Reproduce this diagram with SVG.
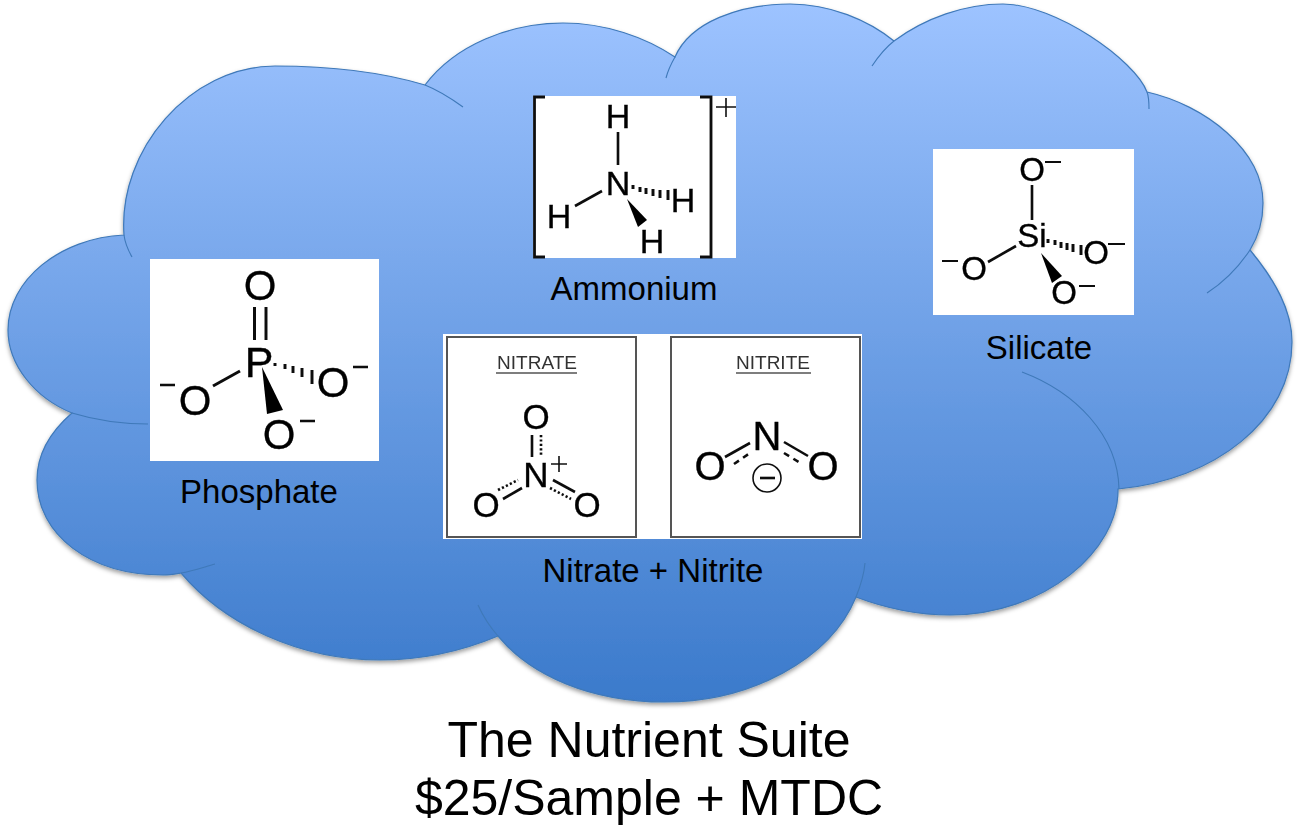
<svg xmlns="http://www.w3.org/2000/svg" width="1299" height="835" viewBox="0 0 1299 835">
<style>
text{font-family:"Liberation Sans",Arial,sans-serif;fill:#000}
.l{font-size:33px;text-anchor:middle}
.t{font-size:50px;text-anchor:middle}
.a{text-anchor:middle;stroke:#000;stroke-width:.35}
.b{stroke:#111;stroke-width:2.6;fill:none;stroke-linecap:butt}
.d{stroke:#111;stroke-width:2.6;fill:none;stroke-dasharray:2.2 2.2}
.h{stroke:#111;stroke-width:3;fill:none}
.w{fill:#fff}
.i{fill:none;stroke:#3f79b9;stroke-width:1.1}
.m{filter:url(#soft)}
</style>
<defs>
<linearGradient id="sky" gradientUnits="userSpaceOnUse" x1="0" y1="4" x2="0" y2="702">
<stop offset="0" stop-color="#9dc3ff"/><stop offset="1" stop-color="#3b7acb"/>
</linearGradient>
<filter id="shadow" x="-5%" y="-5%" width="110%" height="110%"><feDropShadow dx="0" dy="2.5" stdDeviation="2" flood-color="#000" flood-opacity=".38"/></filter>
<filter id="soft" x="-5%" y="-5%" width="110%" height="110%"><feGaussianBlur stdDeviation=".45"/></filter>
</defs>

<g id="cloud">
<path filter="url(#shadow)" fill="url(#sky)" stroke="#3f79b9" stroke-width="1.2" d="M124,235 C118,150 190,66 275,66 C320,66 375,70 425,85 C455,45 510,23 563,23 C605,23 645,37 675,57 C690,22 740,4 790,4 C830,4 868,20 894,41 C925,18 965,4 1003,4 C1055,4 1135,60 1147,92 C1205,105 1263,150 1263,203 C1263,220 1258,237 1250,250 C1275,280 1292,310 1292,342 C1292,420 1215,480 1118,489 C1119,550 1045,615 950,615 C915,615 885,608 856,597 C830,660 750,702 665,702 C590,702 530,675 498,636 C460,652 420,660 380,660 C300,660 225,625 181,573 C175,574 170,575 163,575 C90,575 37,535 37,480 C37,455 50,432 72,413 C35,398 8,365 8,330 C8,280 60,238 124,235 Z"/>
<path class="i" d="M425,85 C440,91 452,99 463,107"/>
<path class="i" d="M666,78 C668,70 671,64 675,57"/>
<path class="i" d="M872,66 C878,57 885,48 894,41"/>
<path class="i" d="M1147,92 C1149,97 1149,103 1149,109"/>
<path class="i" d="M1250,250 C1238,268 1224,282 1207,293"/>
<path class="i" d="M1022,372 C1075,392 1118,435 1119,489"/>
<path class="i" d="M856,597 C860,587 864,575 865,563"/>
<path class="i" d="M498,636 C489,626 483,616 478,605"/>
<path class="i" d="M181,573 C193,571 204,567 215,564"/>
<path class="i" d="M72,413 C95,420 120,424 148,424"/>
<path class="i" d="M124,235 C125,243 128,250 132,257"/>
</g>

<g id="ammonium">
<rect class="w" x="533" y="96" width="203" height="162"/>
<g class="m">
<path class="b" style="stroke-width:2.800" d="M545,97 H534.500 V257 H545 M700,97 H711 V257 H700"/>
<path class="b" style="stroke-width:1.600" d="M716,107 H736 M726,98 V117"/>
<text class="a" x="618" y="128" font-size="34">H</text>
<text class="a" x="618" y="195" font-size="34">N</text>
<text class="a" x="559" y="228" font-size="34">H</text>
<text class="a" x="683" y="212" font-size="34">H</text>
<text class="a" x="652" y="253" font-size="34">H</text>
<path class="b" d="M618,132 V165 M575,206 L602,191"/>
<path fill="#000" d="M627,199 L647,220 L638,227 Z"/>
<path class="h" d="M633,185 V189 M640,187 V192 M646,188 V194 M653,189 V196 M660,190 V198 M668,190 V200"/>
</g>
</g>

<g id="phosphate">
<rect class="w" x="150" y="259" width="229" height="202"/>
<g class="m">
<text class="a" x="260" y="300" font-size="42">O</text>
<text class="a" x="259" y="377" font-size="43">P</text>
<text class="a" x="195" y="415" font-size="42">O</text>
<text class="a" x="333" y="397" font-size="42">O</text>
<text class="a" x="279" y="449" font-size="42">O</text>
<path class="b" style="stroke-width:3" d="M254.500,307 V340 M266,307 V340 M213,386 L240,371"/>
<path class="b" d="M160,385 H175 M353,367 H368 M300,421 H315"/>
<path fill="#000" d="M262,367 L283,410 L267,414 Z"/>
<path class="h" d="M275,363 V366 M285,364 V369 M293,366 V373 M302,368 V377 M312,370 V384"/>
</g>
</g>

<g id="silicate">
<rect class="w" x="933" y="149" width="201" height="166"/>
<g class="m">
<text class="a" x="1032" y="181" font-size="33">O</text>
<text class="a" x="1032" y="247" font-size="33">Si</text>
<text class="a" x="974" y="280" font-size="33">O</text>
<text class="a" x="1096" y="264" font-size="33">O</text>
<text class="a" x="1064" y="304" font-size="33">O</text>
<path class="b" d="M1032,185 V220 M988,262 L1016,246"/>
<path class="b" style="stroke-width:1.800" d="M1045,162 H1061 M942,261 H958 M1108,244 H1125 M1079,286 H1095"/>
<path fill="#000" d="M1041,253 L1062,276 L1052,283 Z"/>
<path class="h" d="M1048,239 V243 M1055,240 V245 M1061,242 V248 M1067,243 V250 M1073,244 V252 M1081,245 V255"/>
</g>
</g>

<g id="nitrate-nitrite">
<rect class="w" x="443" y="334" width="419" height="205"/>
<g class="m">
<rect x="447" y="337" width="189" height="200" fill="none" stroke="#555" stroke-width="2"/>
<rect x="671" y="337" width="189" height="200" fill="none" stroke="#555" stroke-width="2"/>
<text x="537" y="369" font-size="19" text-anchor="middle" style="fill:#333">NITRATE</text>
<path stroke="#555" stroke-width="1.500" d="M496,373 H577 M736,373 H811"/>
<text x="773" y="369" font-size="19" text-anchor="middle" style="fill:#333">NITRITE</text>
<text class="a" x="536" y="429" font-size="35">O</text>
<text class="a" x="536" y="487" font-size="35">N</text>
<text class="a" x="486" y="517" font-size="35">O</text>
<text class="a" x="587" y="517" font-size="35">O</text>
<path class="b" d="M532,435 V457 M503,499 L522,488 M553,480 L575,492"/>
<path class="b" style="stroke-width:1.600" d="M551,464 H567 M559,456 V472"/>
<path class="d" d="M541,435 V457 M498,490 L518,480 M550,488 L571,499"/>
<text class="a" x="767" y="450" font-size="40">N</text>
<text class="a" x="710" y="480" font-size="40">O</text>
<text class="a" x="823" y="480" font-size="40">O</text>
<path class="b" d="M725,457 L750,443 M784,442 L808,456"/>
<path class="b" style="stroke-dasharray:6 5" d="M734,464 L750,453 M784,453 L802,464"/>
<circle cx="767" cy="478" r="14" fill="none" stroke="#111" stroke-width="1.600"/>
<path class="b" d="M760,478 H775"/>
</g>
</g>

<g id="labels">
<text class="l" x="634" y="300">Ammonium</text>
<text class="l" x="259" y="503">Phosphate</text>
<text class="l" x="1039" y="359">Silicate</text>
<text class="l" x="653" y="582">Nitrate + Nitrite</text>
<text class="t" x="649" y="757">The Nutrient Suite</text>
<text class="t" x="649" y="815">$25/Sample + MTDC</text>
</g>
</svg>
